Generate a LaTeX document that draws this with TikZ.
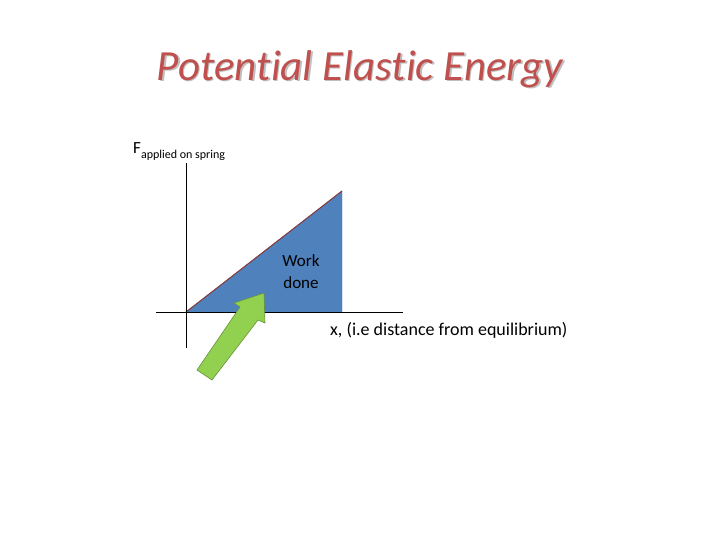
\documentclass[tikz,border=0pt]{standalone}
\usepackage{fontspec}
\setmainfont{Carlito}
\newfontfamily\titlefont[Ligatures=NoCommon]{Carlito}
\definecolor{titlered}{HTML}{C0504D}
\definecolor{areablue}{HTML}{4F81BD}
\definecolor{arrowgreen}{HTML}{92D050}
\begin{document}
\begin{tikzpicture}[x=1pt,y=-1pt]
            \useasboundingbox (0,0) rectangle (720,540);
            % the title
            \node[text=gray!50] at (361.5,70.5) {\titlefont\fontsize{43}{48}\selectfont\itshape Potential Elastic Energy};
            \node[text=titlered] (title) at (360,69) {\titlefont\fontsize{43}{48}\selectfont\itshape Potential Elastic Energy};
            % the area under the line
            \filldraw[fill=areablue, draw=areablue] (186,312) -- (342,191) -- (342,312) -- cycle;
            \draw[titlered!70!black, line width=1pt] (186,312) -- (342,191);
            % the axes
            \draw (186,163) -- (186,348);
            \draw (156,312) -- (403,312);
            % the texts
            \node[anchor=west, inner sep=0pt] (force) at (133,152) {\fontsize{17}{20}\selectfont F\raisebox{-0.6ex}{\fontsize{12}{14}\selectfont applied on spring}};
            \node[anchor=west, inner sep=0pt] (dist) at (330,330) {\fontsize{18}{21}\selectfont x, (i.e distance from equilibrium)};
            \node[align=center, font=\fontsize{17}{22}\selectfont] (work) at (301,272) {Work\\ done};
            % the green arrow
            \filldraw[fill=arrowgreen, draw=arrowgreen!70!black, line width=0.6pt]
                (264,293) -- (265,323) -- (258,320) -- (212,380) -- (197,370) -- (240,307) -- (234,303) -- cycle;
        \end{tikzpicture}
\end{document}
